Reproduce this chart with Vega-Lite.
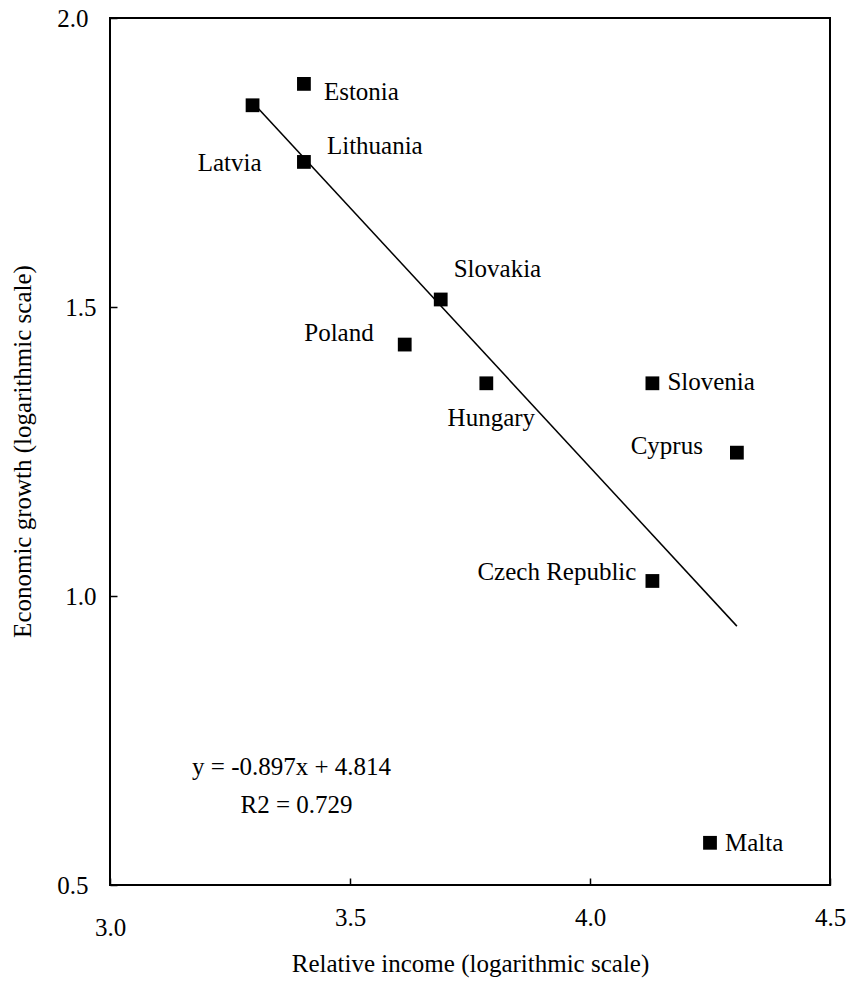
{
  "$schema": "https://vega.github.io/schema/vega-lite/v6.json",
  "width": 720,
  "height": 867,
  "autosize": {"type": "none"},
  "padding": {"left": 110, "top": 18, "right": 21, "bottom": 111},
  "background": "white",
  "config": {
    "font": "Liberation Serif, Times New Roman, DejaVu Serif, serif",
    "view": {"stroke": "black", "strokeWidth": 2},
    "axis": {
      "grid": false,
      "domain": false,
      "labelFont": "Liberation Serif, Times New Roman, DejaVu Serif, serif",
      "titleFont": "Liberation Serif, Times New Roman, DejaVu Serif, serif",
      "labelFontSize": 25,
      "titleFontSize": 25,
      "labelColor": "black",
      "titleColor": "black",
      "titleFontWeight": "normal",
      "tickColor": "black",
      "tickWidth": 1.5,
      "tickSize": -7,
      "labelFlush": false,
      "labelOverlap": false
    },
    "text": {"font": "Liberation Serif, Times New Roman, DejaVu Serif, serif", "fontSize": 25, "color": "black"}
  },
  "data": {
    "values": [
      {"country": "Estonia", "income": 3.404, "growth": 1.886},
      {"country": "Latvia", "income": 3.297, "growth": 1.849},
      {"country": "Lithuania", "income": 3.404, "growth": 1.751},
      {"country": "Slovakia", "income": 3.689, "growth": 1.513},
      {"country": "Poland", "income": 3.614, "growth": 1.435},
      {"country": "Hungary", "income": 3.784, "growth": 1.368},
      {"country": "Slovenia", "income": 4.13, "growth": 1.368},
      {"country": "Cyprus", "income": 4.306, "growth": 1.248},
      {"country": "Czech Republic", "income": 4.13, "growth": 1.026},
      {"country": "Malta", "income": 4.25, "growth": 0.573}
    ]
  },
  "encoding": {
    "x": {
      "field": "income",
      "type": "quantitative",
      "scale": {"domain": [3, 4.5], "nice": false, "zero": false},
      "axis": {
        "values": [3, 3.5, 4, 4.5],
        "format": ".1f",
        "title": "Relative income (logarithmic scale)",
        "labelBaseline": "top",
        "labelPadding": {"condition": {"test": "datum.value == 3", "value": 37}, "value": 27},
        "titleX": 360,
        "titleY": 78,
        "titleAlign": "center",
        "titleBaseline": "middle"
      }
    },
    "y": {
      "field": "growth",
      "type": "quantitative",
      "scale": {"domain": [0.5, 2.0], "nice": false, "zero": false},
      "axis": {
        "values": [0.5, 1.0, 1.5, 2.0],
        "format": ".1f",
        "title": "Economic growth (logarithmic scale)",
        "labelBaseline": "middle",
        "labelPadding": {"condition": {"test": "datum.value == 2 || datum.value == 0.5", "value": 29}, "value": 21},
        "titleX": -88,
        "titleY": 433,
        "titleAngle": -90,
        "titleAlign": "center",
        "titleBaseline": "middle"
      }
    }
  },
  "layer": [
    {
      "transform": [{"regression": "growth", "on": "income"}],
      "mark": {"type": "line", "color": "black", "strokeWidth": 1.5}
    },
    {
      "mark": {"type": "point", "shape": "square", "filled": true, "size": 190, "color": "black", "opacity": 1, "strokeWidth": 0}
    },
    {
      "transform": [{"filter": "datum.country == 'Estonia'"}],
      "mark": {"type": "text", "align": "left", "baseline": "alphabetic", "dx": 20, "dy": 16},
      "encoding": {"text": {"field": "country"}}
    },
    {
      "transform": [{"filter": "datum.country == 'Lithuania'"}],
      "mark": {"type": "text", "align": "left", "baseline": "alphabetic", "dx": 23, "dy": -8},
      "encoding": {"text": {"field": "country"}}
    },
    {
      "transform": [{"filter": "datum.country == 'Latvia'"}],
      "mark": {"type": "text", "align": "right", "baseline": "alphabetic", "dx": 9, "dy": 66},
      "encoding": {"text": {"field": "country"}}
    },
    {
      "transform": [{"filter": "datum.country == 'Slovakia'"}],
      "mark": {"type": "text", "align": "left", "baseline": "alphabetic", "dx": 13, "dy": -22},
      "encoding": {"text": {"field": "country"}}
    },
    {
      "transform": [{"filter": "datum.country == 'Poland'"}],
      "mark": {"type": "text", "align": "right", "baseline": "alphabetic", "dx": -31, "dy": -4},
      "encoding": {"text": {"field": "country"}}
    },
    {
      "transform": [{"filter": "datum.country == 'Hungary'"}],
      "mark": {"type": "text", "align": "center", "baseline": "alphabetic", "dx": 5, "dy": 43},
      "encoding": {"text": {"field": "country"}}
    },
    {
      "transform": [{"filter": "datum.country == 'Slovenia'"}],
      "mark": {"type": "text", "align": "left", "baseline": "alphabetic", "dx": 15, "dy": 7},
      "encoding": {"text": {"field": "country"}}
    },
    {
      "transform": [{"filter": "datum.country == 'Cyprus'"}],
      "mark": {"type": "text", "align": "right", "baseline": "alphabetic", "dx": -34, "dy": 1},
      "encoding": {"text": {"field": "country"}}
    },
    {
      "transform": [{"filter": "datum.country == 'Czech Republic'"}],
      "mark": {"type": "text", "align": "right", "baseline": "alphabetic", "dx": -16, "dy": -1},
      "encoding": {"text": {"field": "country"}}
    },
    {
      "transform": [{"filter": "datum.country == 'Malta'"}],
      "mark": {"type": "text", "align": "left", "baseline": "alphabetic", "dx": 15, "dy": 8},
      "encoding": {"text": {"field": "country"}}
    },
    {
      "transform": [{"filter": "datum.country == 'Latvia'"}],
      "mark": {"type": "text", "align": "center", "baseline": "alphabetic", "dx": 39, "dy": 670, "text": "y = -0.897x + 4.814"}
    },
    {
      "transform": [{"filter": "datum.country == 'Latvia'"}],
      "mark": {"type": "text", "align": "center", "baseline": "alphabetic", "dx": 44, "dy": 708, "text": "R2 = 0.729"}
    }
  ]
}
